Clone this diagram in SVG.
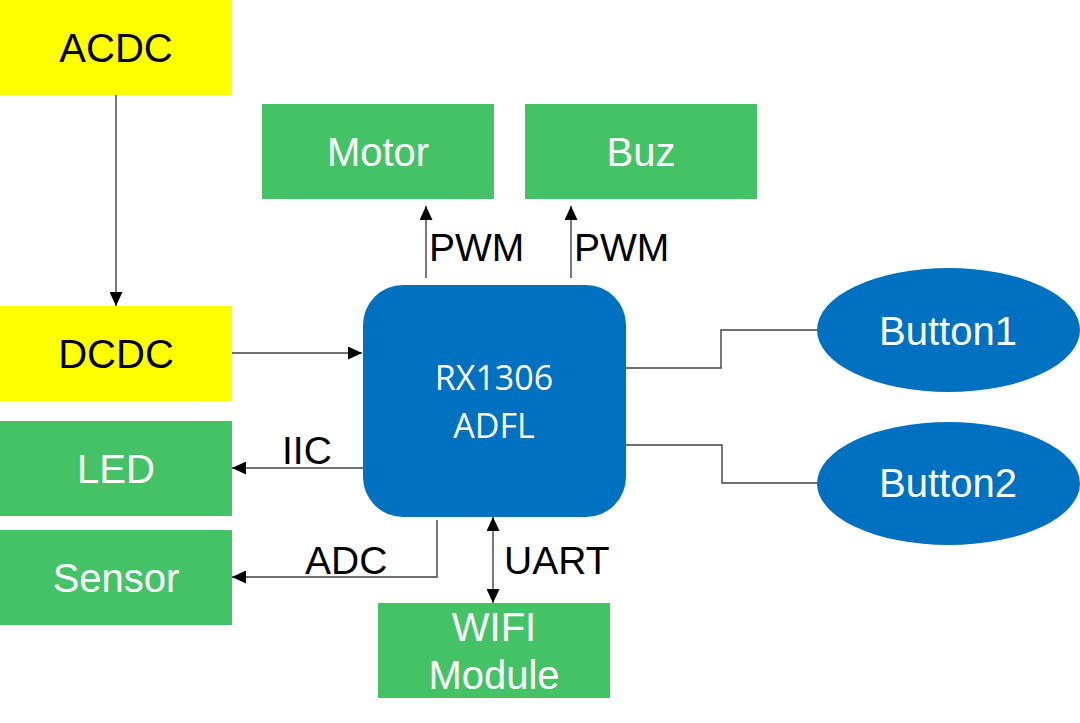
<svg xmlns="http://www.w3.org/2000/svg" width="1080" height="723" viewBox="0 0 1080 723">
<defs>
<marker id="arr" viewBox="0 0 14 13" refX="14" refY="6.5" markerWidth="14" markerHeight="13" markerUnits="userSpaceOnUse" orient="auto-start-reverse">
<path d="M0,0 L14,6.5 L0,13 z" fill="#000"/>
</marker>
<style>
.y{fill:#FFFF00}
.g{fill:#43C366}
.b{fill:#0070C0}
.t{font-family:"Liberation Sans",Arial,sans-serif;font-size:40px;text-anchor:middle}
.w{fill:#fff}
.k{fill:#000}
.lbl{font-family:"Liberation Sans",Arial,sans-serif;font-size:39px;fill:#000}
.c{font-family:"Open Sans","Noto Sans",sans-serif;font-size:34px;fill:#fff;text-anchor:middle}
.ln{fill:none;stroke:#404040;stroke-width:1.4}
</style>
</defs>
<rect width="1080" height="723" fill="#fff"/>
<g id="connectors">
<line class="ln" x1="116" y1="95" x2="116" y2="306" marker-end="url(#arr)"/>
<line class="ln" x1="232" y1="353" x2="362" y2="353" marker-end="url(#arr)"/>
<line class="ln" x1="426" y1="278" x2="426" y2="206" marker-end="url(#arr)"/>
<line class="ln" x1="571" y1="278" x2="571" y2="206" marker-end="url(#arr)"/>
<polyline class="ln" points="626,368 721,368 721,330 817,330"/>
<polyline class="ln" points="626,445 722,445 722,483 817,483"/>
<line class="ln" x1="363" y1="468" x2="232" y2="468" marker-end="url(#arr)"/>
<polyline class="ln" points="437,520 437,577 232,577" marker-end="url(#arr)"/>
<line class="ln" x1="493" y1="517" x2="493" y2="603" marker-start="url(#arr)" marker-end="url(#arr)"/>
<text class="lbl" x="429" y="261">PWM</text>
<text class="lbl" x="574" y="261">PWM</text>
<text class="lbl" x="282" y="464">IIC</text>
<text class="lbl" x="305" y="574">ADC</text>
<text class="lbl" x="504" y="574">UART</text>
</g>
<g id="acdc"><rect class="y" x="0" y="0" width="232" height="95"/><text class="t k" x="116" y="62">ACDC</text></g>
<g id="dcdc"><rect class="y" x="0" y="306" width="232" height="95"/><text class="t k" x="116" y="368">DCDC</text></g>
<g id="led"><rect class="g" x="0" y="421" width="232" height="95"/><text class="t w" x="116" y="483">LED</text></g>
<g id="sensor"><rect class="g" x="0" y="530" width="232" height="95"/><text class="t w" x="116" y="592">Sensor</text></g>
<g id="motor"><rect class="g" x="262" y="104" width="232" height="95"/><text class="t w" x="378" y="166">Motor</text></g>
<g id="buz"><rect class="g" x="525" y="104" width="232" height="95"/><text class="t w" x="641" y="166">Buz</text></g>
<g id="wifi"><rect class="g" x="378" y="603" width="232" height="95"/><text class="t w" x="494" y="641">WIFI</text><text class="t w" x="494" y="689">Module</text></g>
<g id="chip"><rect class="b" x="363" y="285" width="263" height="232" rx="40" ry="40"/><text class="c" x="494" y="390">RX1306</text><text class="c" x="494" y="438">ADFL</text></g>
<g id="button1"><ellipse class="b" cx="948.5" cy="330" rx="131.5" ry="62"/><text class="t w" x="948" y="345">Button1</text></g>
<g id="button2"><ellipse class="b" cx="948.5" cy="483.5" rx="131.5" ry="61.5"/><text class="t w" x="948" y="497">Button2</text></g>
</svg>
